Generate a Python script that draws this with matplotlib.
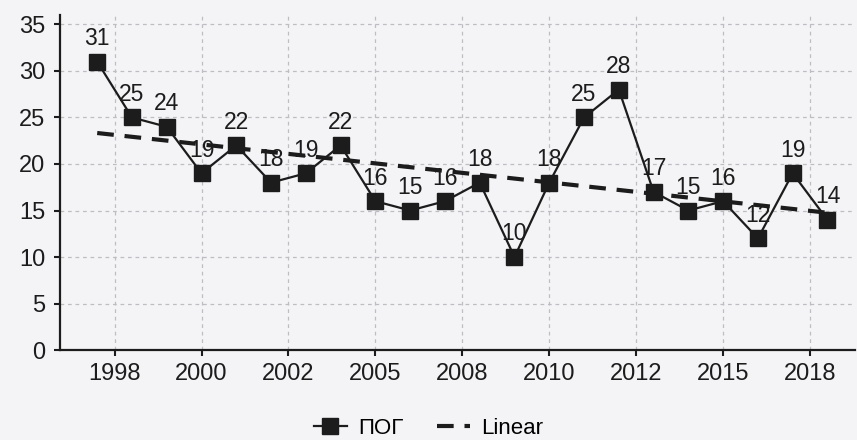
import numpy as np
import matplotlib
matplotlib.use("Agg")
import matplotlib.pyplot as plt

# %% Data
values = [31, 25, 24, 19, 22, 18, 19, 22, 16, 15, 16, 18, 10, 18, 25, 28, 17, 15, 16, 12, 19, 14]
tick_labels = ["1998", "2000", "2002", "2005", "2008", "2010", "2012", "2015", "2018"]
tick_pos = [0.5, 3, 5.5, 8, 10.5, 13, 15.5, 18, 20.5]
series_name = "ПОГ"
trend_name = "Linear"

plt.rcParams['font.family'] = ['Liberation Sans', 'DejaVu Sans']
bg = '#f4f4f7'
ink = '#1c1c1c'
grid_c = '#bdbdc2'

x = np.arange(len(values))
slope, intercept = np.polyfit(x, values, 1)
trend = slope * x + intercept

fig = plt.figure(figsize=(8.57, 4.4), dpi=100, facecolor=bg)
ax = fig.add_axes([0.070, 0.2045, 0.928, 0.761])
ax.set_facecolor(bg)

# grid
for v in range(5, 40, 5):
    ax.axhline(v, color=grid_c, lw=0.9, ls=(0, (3, 3)), zorder=0)
for t in tick_pos:
    ax.axvline(t, color=grid_c, lw=0.9, ls=(0, (3, 3)), zorder=0)

line, = ax.plot(x, values, color=ink, lw=1.6, marker='s', markersize=11.5,
                markerfacecolor=ink, markeredgecolor=ink, label=series_name, zorder=3)
tline, = ax.plot(x, trend, color=ink, lw=3, ls=(0, (4, 2.6)), label=trend_name, zorder=4)

for xi, v in zip(x, values):
    ax.annotate(str(v), (xi, v), xytext=(0, 12), textcoords='offset points',
                ha='center', va='baseline', fontsize=16.5, color=ink, zorder=5)

ax.set_xlim(-1.07, 21.8)
ax.set_ylim(0, 36)
ax.set_yticks(range(0, 40, 5))
ax.set_xticks(tick_pos)
ax.set_xticklabels(tick_labels)
ax.tick_params(axis='both', labelsize=17, colors=ink, length=4.5, width=1.5, direction='out')
ax.tick_params(axis='y', pad=6)
ax.tick_params(axis='x', pad=5)

for s in ['top', 'right']:
    ax.spines[s].set_visible(False)
for s in ['left', 'bottom']:
    ax.spines[s].set_color(ink)
    ax.spines[s].set_linewidth(1.6)

fig.legend(handles=[line, tline], loc='center', bbox_to_anchor=(0.5, 0.027), ncol=2,
           frameon=False, fontsize=16, handlelength=1.5, columnspacing=1.5,
           handletextpad=0.5)

fig.savefig('out.png', dpi=100, facecolor=bg)
